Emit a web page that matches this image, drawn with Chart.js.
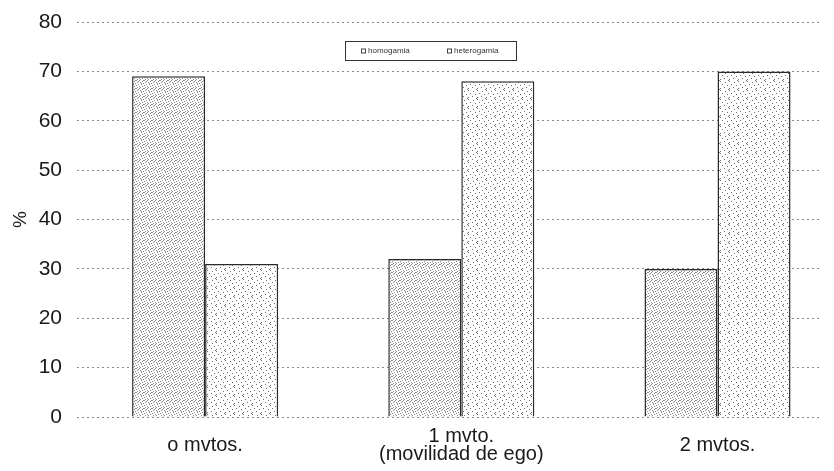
<!DOCTYPE html>
<html>
<head>
<meta charset="utf-8">
<script src="https://cdn.jsdelivr.net/npm/chart.js@4/dist/chart.umd.min.js"></script>
<style>
    html, body { margin: 0; padding: 0; background: #fff; }
    #wrap { width: 834px; height: 471px; }
</style>
</head>
<body>
<div id="wrap"><canvas id="chart"></canvas></div>
<script>
const categories = [['o mvtos.'], ['1 mvto.', '(movilidad de ego)'], ['2 mvtos.']];
const seriesNames = ['homogamia', 'heterogamia'];
const homogamia = [69, 32, 30];
const heterogamia = [31, 68, 70];
const yTicks = [0, 10, 20, 30, 40, 50, 60, 70, 80];

// stippled fills like the printed figure
function dotPattern(size, dots, color) {
    const tile = document.createElement('canvas');
    tile.width = size;
    tile.height = size;
    const c = tile.getContext('2d');
    c.fillStyle = '#ffffff';
    c.fillRect(0, 0, size, size);
    c.fillStyle = color;
    dots.forEach(([x, y]) => c.fillRect(x, y, 1, 1));
    return document.getElementById('chart').getContext('2d').createPattern(tile, 'repeat');
}

const densePattern = dotPattern(8, [
    [0, 0], [3, 0], [6, 1], [1, 2], [4, 2], [7, 3], [2, 4], [5, 4],
    [0, 5], [3, 6], [6, 6], [1, 7], [4, 7], [7, 0], [2, 1], [5, 3],
], '#8a8a8a');
const sparsePattern = dotPattern(9, [
    [0, 0], [5, 1], [2, 3], [7, 4], [4, 6], [0, 7], [8, 8],
], '#6e6e6e');

const toPoints = (values) => values.map((y, x) => ({ x, y }));

const boxedLegend = {
    id: 'boxedLegend',
    afterDraw(chart) {
        const { ctx, chartArea } = chart;
        const left = chartArea.left + 268;
        const top = chartArea.top + 19;
        ctx.save();
        ctx.fillStyle = '#ffffff';
        ctx.fillRect(left, top, 171, 19);
        ctx.strokeStyle = '#333333';
        ctx.lineWidth = 1;
        ctx.strokeRect(left + 0.5, top + 0.5, 171, 19);
        ctx.font = '8px "Liberation Sans", Arial, sans-serif';
        ctx.textBaseline = 'middle';
        const offsets = [16, 102];
        chart.data.datasets.forEach((ds, i) => {
            const x = left + offsets[i];
            const y = top + 10;
            ctx.strokeStyle = '#444444';
            ctx.strokeRect(x + 0.5, y - 2, 4, 4);
            ctx.fillStyle = '#333333';
            ctx.fillText(ds.label, x + 7, y);
        });
        ctx.restore();
    },
};

new Chart(document.getElementById('chart'), {
    type: 'bar',
    data: {
        datasets: [
            {
                label: seriesNames[0],
                data: toPoints(homogamia),
                backgroundColor: densePattern,
                borderColor: '#2b2b2b',
                borderWidth: 1.5,
            },
            {
                label: seriesNames[1],
                data: toPoints(heterogamia),
                backgroundColor: sparsePattern,
                borderColor: '#2b2b2b',
                borderWidth: 1.5,
            },
        ],
    },
    options: {
        responsive: true,
        maintainAspectRatio: false,
        animation: false,
        categoryPercentage: 0.57,
        barPercentage: 1,
        layout: {
            padding: { top: 22, right: 14, bottom: 4, left: 6 },
        },
        plugins: {
            legend: { display: false },
            tooltip: { enabled: false },
        },
        scales: {
            x: {
                type: 'linear',
                offset: false,
                min: -0.5,
                max: 2.4,
                afterBuildTicks: (axis) => {
                    axis.ticks = categories.map((_, i) => ({ value: i }));
                },
                afterFit: (axis) => {
                    axis.height = 50;
                },
                ticks: {
                    autoSkip: false,
                    maxRotation: 0,
                    padding: 11,
                    crossAlign: 'center',
                    color: '#1a1a1a',
                    font: { family: '"Liberation Sans", Arial, sans-serif', size: 20, lineHeight: 0.9 },
                    callback: (value) => categories[value],
                },
                grid: { display: false, offset: false },
                border: { display: false },
            },
            y: {
                min: 0,
                max: 80,
                afterBuildTicks: (axis) => {
                    axis.ticks = yTicks.map((value) => ({ value }));
                },
                afterFit: (axis) => {
                    axis.width = 71;
                    axis.paddingTop = 0;
                    axis.paddingBottom = 0;
                },
                ticks: {
                    padding: 15,
                    color: '#1a1a1a',
                    font: { family: '"Liberation Sans", Arial, sans-serif', size: 21 },
                },
                title: {
                    display: true,
                    text: '%',
                    color: '#1a1a1a',
                    padding: 3,
                    font: { family: '"Liberation Sans", Arial, sans-serif', size: 19 },
                },
                grid: {
                    color: '#8a8a8a',
                    lineWidth: 1,
                    drawTicks: false,
                },
                border: { display: false, dash: [2, 3] },
            },
        },
    },
    plugins: [boxedLegend],
});
</script>
</body>
</html>
